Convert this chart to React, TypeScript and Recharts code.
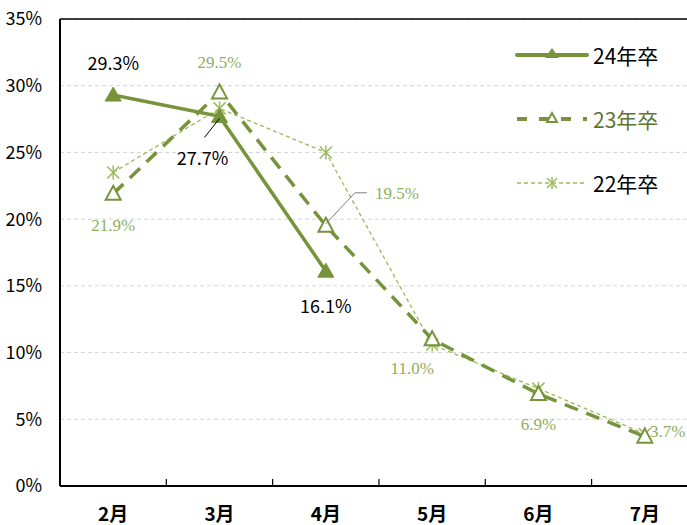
import React from "react";
import {
  LineChart,
  Line,
  XAxis,
  YAxis,
  CartesianGrid,
  ReferenceLine,
  LabelList,
} from "recharts";

const months = ["2月", "3月", "4月", "5月", "6月", "7月"];
const grad24 = [29.3, 27.7, 16.1, null, null, null];
const grad23 = [21.9, 29.5, 19.5, 11.0, 6.9, 3.7];
const grad22 = [23.5, 28.3, 25.0, 10.6, 7.3, 3.9];
const yTicks = [0, 5, 10, 15, 20, 25, 30, 35];

const data = months.map((m, i) => ({
  month: m,
  g24: grad24[i],
  g23: grad23[i],
  g22: grad22[i],
}));

const DARK = "#77933C";
const LIGHT = "#9BBB59";
const LABEL_LIGHT = "#8FAE5A";
const SANS = "'Noto Sans CJK JP', 'Noto Sans', sans-serif";
const SERIF = "'Liberation Serif', 'DejaVu Serif', serif";
const HALF_BAND = 53.2;

const FilledTri = (p: any) => {
  const { cx, cy } = p;
  if (cx == null || cy == null) return null;
  return (
    <path
      d={`M${cx},${cy - 8} L${cx + 8},${cy + 6} L${cx - 8},${cy + 6} Z`}
      fill={DARK}
      stroke={DARK}
      strokeWidth={1}
    />
  );
};

const HollowTri = (p: any) => {
  const { cx, cy } = p;
  if (cx == null || cy == null) return null;
  return (
    <path
      d={`M${cx},${cy - 8} L${cx + 7.5},${cy + 6} L${cx - 7.5},${cy + 6} Z`}
      fill="#fff"
      stroke={DARK}
      strokeWidth={2}
    />
  );
};

const Star = (p: any) => {
  const { cx, cy } = p;
  if (cx == null || cy == null) return null;
  return (
    <g stroke={LIGHT} strokeWidth={1.5}>
      <line x1={cx} y1={cy - 7} x2={cx} y2={cy + 7} />
      <line x1={cx - 6} y1={cy - 6} x2={cx + 6} y2={cy + 6} />
      <line x1={cx - 6} y1={cy + 6} x2={cx + 6} y2={cy - 6} />
    </g>
  );
};

// label offsets (dx, dy relative to the point)
const off24 = [
  [0, -33],
  [-17, 41],
  [0, 34],
];
const off23 = [
  [0, 32],
  [0, -30],
  [71, -32],
  [-20, 29],
  [0, 31],
  [23, -5],
];

const label24 = (p: any) => {
  const { x, y, value, index } = p;
  if (value == null) return null;
  const [dx, dy] = off24[index];
  return (
    <g>
      {index === 1 && (
        <line x1={x - 15} y1={y + 21} x2={x} y2={y + 2} stroke="#000" strokeWidth={1} />
      )}
      <text
        x={x + dx}
        y={y + dy}
        textAnchor="middle"
        dominantBaseline="central"
        fontFamily={SANS}
        fontSize={18}
        fill="#000"
      >
        {`${value.toFixed(1)}%`}
      </text>
    </g>
  );
};

const label23 = (p: any) => {
  const { x, y, value, index } = p;
  if (value == null) return null;
  const [dx, dy] = off23[index];
  return (
    <g>
      {index === 2 && (
        <polyline
          points={`${x},${y - 2} ${x + 29},${y - 33} ${x + 41},${y - 33}`}
          fill="none"
          stroke="#7f7f7f"
          strokeWidth={1}
        />
      )}
      <text
        x={x + dx}
        y={y + dy}
        textAnchor="middle"
        dominantBaseline="central"
        fontFamily={SERIF}
        fontSize={17}
        fill={LABEL_LIGHT}
      >
        {`${value.toFixed(1)}%`}
      </text>
    </g>
  );
};

const XTick = (p: any) => {
  const { x, y, payload } = p;
  return (
    <g>
      <line x1={x - HALF_BAND} y1={y} x2={x - HALF_BAND} y2={y - 7} stroke="#000" strokeWidth={1.2} />
      <text
        x={x}
        y={y + 26}
        textAnchor="middle"
        dominantBaseline="central"
        fontFamily={SANS}
        fontWeight="bold"
        fontSize={19}
        fill="#000"
      >
        {payload.value}
      </text>
    </g>
  );
};

const legendItems = [
  { name: "24年卒", kind: "24", color: "#000" },
  { name: "23年卒", kind: "23", color: "#5F7430" },
  { name: "22年卒", kind: "22", color: "#000" },
];

const LegendBox = () => (
  <div style={{ position: "absolute", left: 515, top: 23, display: "flex", flexDirection: "column" }}>
    {legendItems.map((it) => (
      <div key={it.name} style={{ display: "flex", alignItems: "center", height: 64 }}>
        <svg width={74} height={20} style={{ overflow: "visible" }}>
          {it.kind === "24" && (
            <>
              <line x1={2} y1={10} x2={72} y2={10} stroke={DARK} strokeWidth={4} strokeLinecap="round" />
              <path d="M37,3 L44,13 L30,13 Z" fill={DARK} />
            </>
          )}
          {it.kind === "23" && (
            <>
              <line x1={2} y1={10} x2={72} y2={10} stroke={DARK} strokeWidth={4} strokeDasharray="10 12" />
              <path d="M37,4 L42,13 L32,13 Z" fill="#fff" stroke={DARK} strokeWidth={2} />
            </>
          )}
          {it.kind === "22" && (
            <>
              <line x1={2} y1={10} x2={72} y2={10} stroke={LIGHT} strokeWidth={1.3} strokeDasharray="4 3" />
              <g stroke={LIGHT} strokeWidth={1.5}>
                <line x1={37} y1={4} x2={37} y2={16} />
                <line x1={32} y1={5} x2={42} y2={15} />
                <line x1={32} y1={15} x2={42} y2={5} />
              </g>
            </>
          )}
        </svg>
        <span
          style={{
            marginLeft: 4,
            fontFamily: SANS,
            fontSize: 21,
            color: it.color,
            lineHeight: 1,
          }}
        >
          {it.name}
        </span>
      </div>
    ))}
  </div>
);

export default function App() {
  return (
    <div
      style={{
        position: "absolute",
        left: 0,
        top: 0,
        width: 687,
        height: 525,
        overflow: "hidden",
        background: "#fff",
      }}
    >
      <LineChart
        width={700}
        height={525}
        data={data}
        margin={{ top: 19, right: 2, left: 0, bottom: 0 }}
      >
        <CartesianGrid horizontal vertical={false} stroke="#d4d4d4" strokeDasharray="4 3" />
        <XAxis
          dataKey="month"
          scale="point"
          padding={{ left: HALF_BAND, right: HALF_BAND }}
          height={39}
          axisLine={{ stroke: "#000", strokeWidth: 2 }}
          tickLine={false}
          tickSize={0}
          tickMargin={0}
          tick={<XTick />}
          interval={0}
        />
        <YAxis
          domain={[0, 35]}
          ticks={yTicks}
          width={60}
          tickFormatter={(v: number) => `${v}%`}
          axisLine={{ stroke: "#000", strokeWidth: 2 }}
          tickLine={false}
          tickSize={6}
          tickMargin={12}
          tick={{ fontFamily: SANS, fontSize: 18, fill: "#000" }}
        />
        <ReferenceLine y={35} stroke="#000" strokeWidth={1.5} />
        <Line
          type="linear"
          dataKey="g22"
          stroke={LIGHT}
          strokeWidth={1.3}
          strokeDasharray="4 3"
          dot={<Star />}
          activeDot={false}
          isAnimationActive={false}
        />
        <Line
          type="linear"
          dataKey="g23"
          stroke={DARK}
          strokeWidth={3.5}
          strokeDasharray="14 9"
          dot={<HollowTri />}
          activeDot={false}
          isAnimationActive={false}
        >
          <LabelList dataKey="g23" content={label23} />
        </Line>
        <Line
          type="linear"
          dataKey="g24"
          stroke={DARK}
          strokeWidth={3.5}
          dot={<FilledTri />}
          activeDot={false}
          isAnimationActive={false}
        >
          <LabelList dataKey="g24" content={label24} />
        </Line>
      </LineChart>
      <LegendBox />
    </div>
  );
}
